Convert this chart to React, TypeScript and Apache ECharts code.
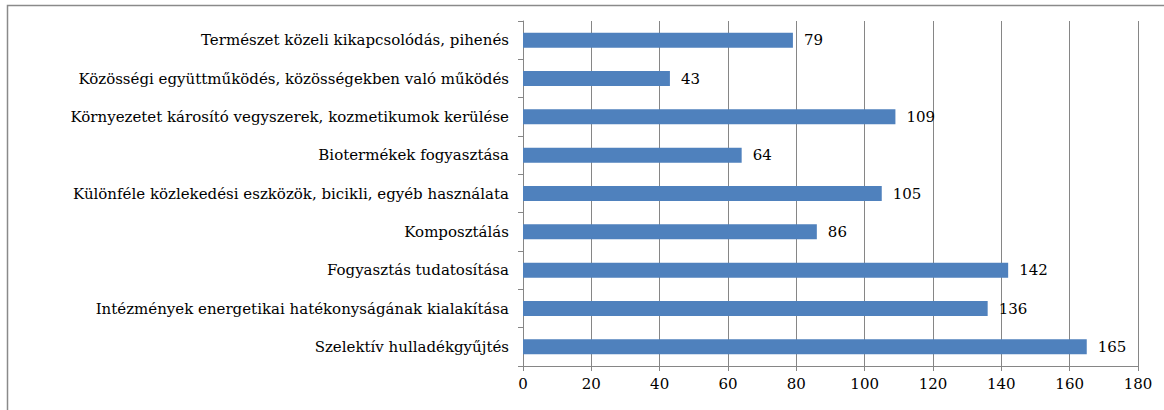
import React, { useEffect, useRef } from "react";
import * as echarts from "echarts";

const categories = [
  "Természet közeli kikapcsolódás, pihenés",
  "Közösségi együttműködés, közösségekben való működés",
  "Környezetet károsító vegyszerek, kozmetikumok kerülése",
  "Biotermékek fogyasztása",
  "Különféle közlekedési eszközök, bicikli, egyéb használata",
  "Komposztálás",
  "Fogyasztás tudatosítása",
  "Intézmények energetikai hatékonyságának kialakítása",
  "Szelektív hulladékgyűjtés",
];
const values = [79, 43, 109, 64, 105, 86, 142, 136, 165];
const xTicks = { min: 0, max: 180, interval: 20 };

export default function App() {
  const ref = useRef<HTMLDivElement>(null);
  useEffect(() => {
    document.body.style.margin = "0";
    const chart = echarts.init(ref.current!, undefined, { renderer: "svg" });
    const font = "DejaVu Serif";
    chart.setOption({
      animation: false,
      backgroundColor: "#ffffff",
      textStyle: { fontFamily: font },
      graphic: [
        {
          type: "rect",
          shape: { x: 7.5, y: 5.5, width: 1200, height: 500 },
          style: { fill: "none", stroke: "#8a8a8a", lineWidth: 1.5 },
          silent: true,
        },
      ],
      grid: { left: 523, right: 26, top: 21, bottom: 44, containLabel: false },
      xAxis: {
        type: "value",
        min: xTicks.min,
        max: xTicks.max,
        interval: xTicks.interval,
        axisLine: { show: true, lineStyle: { color: "#868686" } },
        axisTick: { show: true, length: 5, lineStyle: { color: "#868686" } },
        splitLine: { show: true, lineStyle: { color: "#868686" } },
        axisLabel: { color: "#000", fontSize: 15, fontFamily: font, margin: 10 },
      },
      yAxis: {
        type: "category",
        data: categories,
        inverse: true,
        axisLine: { show: true, lineStyle: { color: "#868686" } },
        axisTick: { show: true, length: 5, lineStyle: { color: "#868686" } },
        axisLabel: { color: "#000", fontSize: 15, fontFamily: font, margin: 14 },
      },
      series: [
        {
          type: "bar",
          data: values,
          barWidth: 15,
          itemStyle: { color: "#4F81BD" },
          label: {
            show: true,
            position: "right",
            distance: 11,
            color: "#000",
            fontSize: 15,
            fontFamily: font,
          },
        },
      ],
    });
    return () => chart.dispose();
  }, []);
  return <div ref={ref} style={{ width: 1164, height: 410 }} />;
}
